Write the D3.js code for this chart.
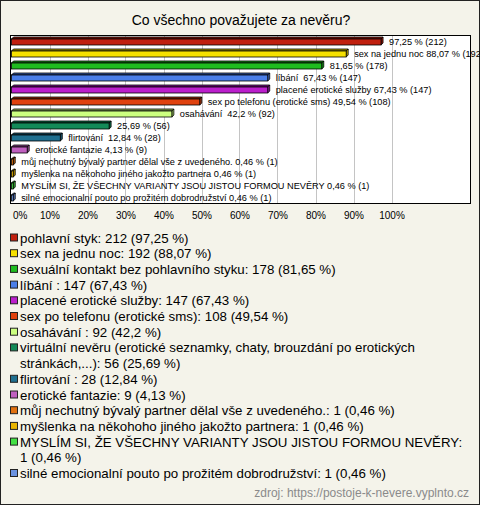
<!DOCTYPE html>
<html><head><meta charset="utf-8">
<script src="https://cdn.jsdelivr.net/npm/d3@7"></script>
<style>body{margin:0;background:#fff}svg{display:block}text{font-family:"Liberation Sans",Arial,sans-serif;white-space:pre}</style>
</head><body>
<svg id="c" width="480" height="505"></svg>
<script>
const title = "Co všechno považujete za nevěru?";
const categories = [
  "pohlavní styk",
  "sex na jednu noc",
  "sexuální kontakt bez pohlavního styku",
  "líbání ",
  "placené erotické služby",
  "sex po telefonu (erotické sms)",
  "osahávání ",
  "virtuální nevěru (erotické seznamky, chaty, brouzdání po erotických stránkách,...)",
  "flirtování ",
  "erotické fantazie",
  "můj nechutný bývalý partner dělal vše z uvedeného.",
  "myšlenka na někohoho jiného jakožto partnera",
  "MYSLÍM SI, ŽE VŠECHNY VARIANTY JSOU JISTOU FORMOU NEVĚRY",
  "silné emocionalní pouto po prožitém dobrodružství"
];
const barNames = [
  "", "sex na jednu noc", "", "líbání ", "placené erotické služby",
  "sex po telefonu (erotické sms)", "osahávání ", "", "flirtování ",
  "erotické fantazie", "můj nechutný bývalý partner dělal vše z uvedeného.",
  "myšlenka na někohoho jiného jakožto partnera",
  "MYSLÍM SI, ŽE VŠECHNY VARIANTY JSOU JISTOU FORMOU NEVĚRY",
  "silné emocionalní pouto po prožitém dobrodružství"
];
const counts = [212, 192, 178, 147, 147, 108, 92, 56, 28, 9, 1, 1, 1, 1];
const percents = [97.25, 88.07, 81.65, 67.43, 67.43, 49.54, 42.2, 25.69, 12.84, 4.13, 0.46, 0.46, 0.46, 0.46];
const colors = ["#c0200f", "#f5e000", "#1fbb1f", "#4a7ee8", "#bb1fcc", "#e0420f", "#ccff80",
  "#138a58", "#1f6f8f", "#c060c0", "#e07010", "#e8b400", "#44e044", "#6a92e0"];
const tickValues = [0, 10, 20, 30, 40, 50, 60, 70, 80, 90, 100];
const tickLabels = ["0%", "10%", "20%", "30%", "40%", "50%", "60%", "70%", "80%", "90%", "100%"];
const source = "zdroj: https://postoje-k-nevere.vyplnto.cz";

const fmt = v => String(v).replace(".", ",");
const svg = d3.select("#c");
const W = 480, H = 505;

svg.append("rect").attr("x", 0.5).attr("y", 0.5).attr("width", W - 1).attr("height", H - 1)
  .attr("fill", "#f4f3ea").attr("stroke", "#222");

svg.append("text").attr("x", 241).attr("y", 25).attr("text-anchor", "middle")
  .attr("font-size", 14).attr("fill", "#000").text(title);

const plot = {l: 10, t: 35, r: 470, b: 203};
svg.append("rect").attr("x", plot.l + 0.5).attr("y", plot.t + 0.5)
  .attr("width", plot.r - plot.l).attr("height", plot.b - plot.t)
  .attr("fill", "#fff");

const x = d3.scaleLinear().domain([0, 100]).range([11.5, 391.5]);
const y = d3.scaleBand().domain(d3.range(categories.length)).range([plot.t + 0.5, plot.b + 0.5]);

// grid
svg.append("g").selectAll("line").data(tickValues.filter(v => v > 0)).join("line")
  .attr("x1", d => Math.round(x(d)) + 0.5).attr("x2", d => Math.round(x(d)) + 0.5)
  .attr("y1", plot.t).attr("y2", plot.b)
  .attr("stroke", "#c4c4c4").attr("stroke-width", 1);

// frame
svg.append("rect").attr("x", plot.l + 0.5).attr("y", plot.t + 0.5)
  .attr("width", plot.r - plot.l).attr("height", plot.b - plot.t)
  .attr("fill", "none").attr("stroke", "#000");

// axis labels
const axis = d3.axisBottom(x).tickValues(tickValues).tickFormat((d, i) => tickLabels[i]).tickSize(0).tickPadding(0);
const ag = svg.append("g").attr("transform", `translate(0,${plot.b + 7})`).call(axis);
ag.select(".domain").remove();
ag.selectAll("text").attr("font-size", 10).attr("fill", "#000").attr("dy", "0.9em")
  .style("font-family", "'Liberation Sans',Arial,sans-serif");
ag.selectAll(".tick").filter(d => d === 0).select("text").attr("text-anchor", "start").attr("dx", 1);

// bars (3D)
const d = 2;
const bars = svg.append("g");
percents.forEach((p, i) => {
  const c = y(i) + y.bandwidth() / 2 + 0.5;
  const x0 = x(0), x1 = x(p), y0 = c - 3, y1 = c + 3;
  const col = d3.color(colors[i]);
  const g = bars.append("g");
  g.append("polygon").attr("points", [[x0, y0], [x0 + d, y0 - d], [x1 + d, y0 - d], [x1, y0]].join(" "))
    .attr("fill", col.darker(1)).attr("stroke", "#000").attr("stroke-width", 0.8);
  g.append("polygon").attr("points", [[x1, y0], [x1 + d, y0 - d], [x1 + d, y1 - d], [x1, y1]].join(" "))
    .attr("fill", col.darker(0.6)).attr("stroke", "#000").attr("stroke-width", 0.8);
  g.append("rect").attr("x", x0).attr("y", y0).attr("width", x1 - x0).attr("height", y1 - y0)
    .attr("fill", col).attr("stroke", "#000").attr("stroke-width", 0.8);
  const name = barNames[i];
  g.append("text").attr("x", x1 + d + 6).attr("y", c + 3.2).attr("font-size", 9.2).attr("fill", "#000")
    .text((name ? name + " " : "") + fmt(p) + " % (" + counts[i] + ")");
});

// legend
const lg = svg.append("g");
const lineH = 15.7, maxW = 453, lx = 20, fs = 13.3;
let ly = 242.5;
categories.forEach((cat, i) => {
  const label = cat + ": " + counts[i] + " (" + fmt(percents[i]) + " %)";
  lg.append("rect").attr("x", 10.5).attr("y", ly - 8.5).attr("width", 7).attr("height", 7)
    .attr("fill", colors[i]).attr("stroke", "#222");
  const words = label.split(" ");
  let line = "";
  const t = lg.append("text").attr("font-size", fs).attr("fill", "#000");
  const probe = lg.append("text").attr("font-size", fs).attr("visibility", "hidden");
  const lines = [];
  words.forEach(w => {
    const test = line ? line + " " + w : w;
    probe.text(test);
    if (line && probe.node().getComputedTextLength() > maxW) { lines.push(line); line = w; }
    else line = test;
  });
  lines.push(line);
  probe.remove();
  lines.forEach((ln, k) => {
    t.append("tspan").attr("x", lx).attr("y", ly + k * lineH).text(ln);
  });
  ly += lines.length * lineH;
});

svg.append("text").attr("x", 469).attr("y", 497).attr("text-anchor", "end")
  .attr("font-size", 12).attr("fill", "#8a8a8a").text(source);
</script>
</body></html>
